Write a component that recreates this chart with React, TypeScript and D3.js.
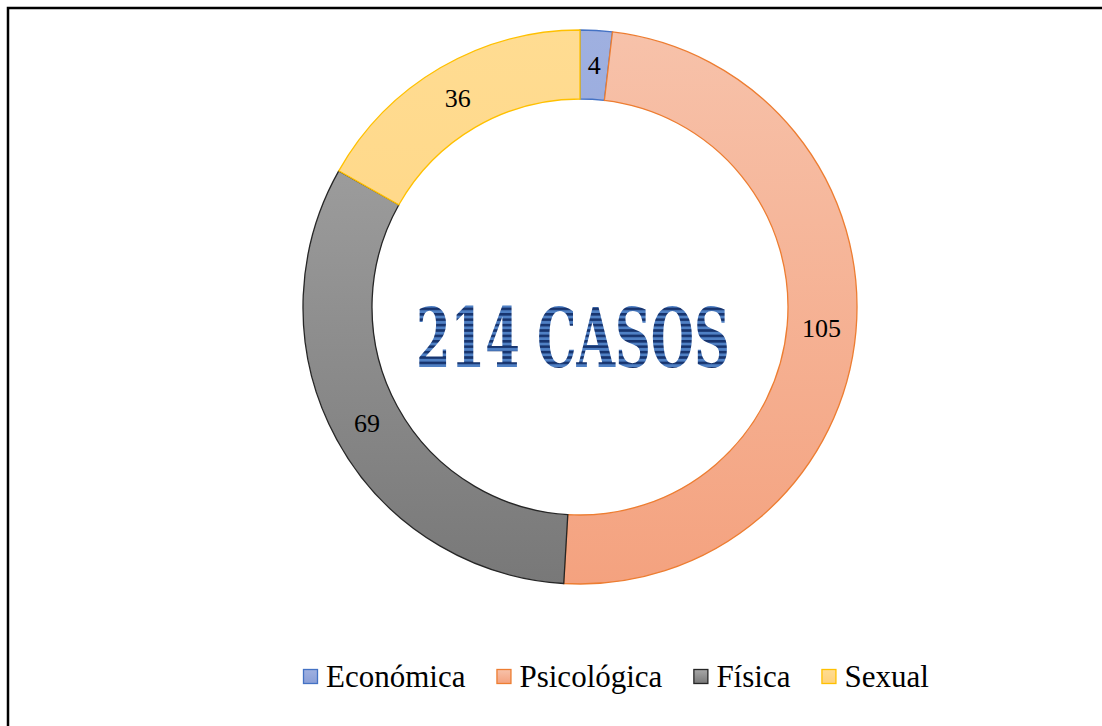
import React, { useEffect, useRef } from 'react';
import * as d3 from 'd3';

const categories = ['Económica', 'Psicológica', 'Física', 'Sexual'];
const values = [4, 105, 69, 36];
const totalLabel = '214 CASOS';

const fillTop = ['#9fb0e0', '#f7c2aa', '#a8a8a8', '#ffdc92'];
const fillBottom = ['#8a9fd8', '#f4a27f', '#787878', '#ffd27a'];
const strokes = ['#4472c4', '#ed7d31', '#262626', '#ffc000'];

const SERIF = "'Liberation Serif', 'Times New Roman', Tinos, 'DejaVu Serif', serif";

function App() {
  const ref = useRef<SVGSVGElement>(null);

  useEffect(() => {
    if (!ref.current) return;
    const svg = d3.select(ref.current);
    svg.selectAll('*').remove();

    const width = 1102;
    const height = 726;
    const cx = 580;
    const cy = 307;
    const outer = 277;
    const inner = 208;

    svg.append('rect').attr('width', width).attr('height', height).attr('fill', '#fff');
    svg.append('rect')
      .attr('x', 8).attr('y', 8)
      .attr('width', 1300).attr('height', 900)
      .attr('fill', 'none').attr('stroke', '#000').attr('stroke-width', 2.5);

    const defs = svg.append('defs');
    categories.forEach((c, i) => {
      const g = defs.append('linearGradient')
        .attr('id', `grad${i}`)
        .attr('gradientUnits', 'userSpaceOnUse')
        .attr('x1', 0).attr('y1', -outer).attr('x2', 0).attr('y2', outer);
      g.append('stop').attr('offset', '0%').attr('stop-color', fillTop[i]);
      g.append('stop').attr('offset', '100%').attr('stop-color', fillBottom[i]);
      const lg = defs.append('linearGradient')
        .attr('id', `leg${i}`).attr('x1', 0).attr('y1', 0).attr('x2', 0).attr('y2', 1);
      lg.append('stop').attr('offset', '0%').attr('stop-color', fillTop[i]);
      lg.append('stop').attr('offset', '100%').attr('stop-color', fillBottom[i]);
    });

    // striped pattern for the center text
    const pat = defs.append('pattern')
      .attr('id', 'stripes')
      .attr('patternUnits', 'userSpaceOnUse')
      .attr('width', 10).attr('height', 5.4);
    pat.append('rect').attr('width', 10).attr('height', 5.4).attr('fill', '#4f80c4');
    pat.append('rect').attr('width', 10).attr('height', 2.6).attr('fill', '#17346e');

    const pie = d3.pie<number>().sort(null).value(d => d);
    const arcs = pie(values);
    const arc = d3.arc<d3.PieArcDatum<number>>().innerRadius(inner).outerRadius(outer);

    const g = svg.append('g').attr('transform', `translate(${cx},${cy})`);
    g.selectAll('path.slice')
      .data(arcs)
      .enter()
      .append('path')
      .attr('class', 'slice')
      .attr('d', arc)
      .attr('fill', (d, i) => `url(#grad${i})`)
      .attr('stroke', (d, i) => strokes[i])
      .attr('stroke-width', 1.3);

    g.selectAll('text.lbl')
      .data(arcs)
      .enter()
      .append('text')
      .attr('class', 'lbl')
      .attr('transform', d => `translate(${arc.centroid(d)})`)
      .attr('text-anchor', 'middle')
      .attr('dy', '0.35em')
      .attr('font-family', SERIF)
      .attr('font-size', 26)
      .attr('fill', '#000')
      .text(d => d.data);

    // big center label, squeezed horizontally to the reference width
    const center = svg.append('text')
      .attr('text-anchor', 'middle')
      .attr('font-family', "'DejaVu Serif', serif")
      .attr('font-weight', 'bold')
      .attr('font-size', 82)
      .attr('fill', 'url(#stripes)')
      .text(totalLabel);
    const natural = (center.node() as SVGTextElement).getComputedTextLength();
    center.attr('transform', `translate(573,367) scale(${314 / natural},1)`);

    // legend
    const legend = svg.append('g').attr('transform', 'translate(303,677)');
    let x = 0;
    categories.forEach((c, i) => {
      const item = legend.append('g').attr('transform', `translate(${x},0)`);
      item.append('rect')
        .attr('x', 0.5).attr('y', -7.5)
        .attr('width', 14).attr('height', 14)
        .attr('fill', `url(#leg${i})`)
        .attr('stroke', strokes[i]).attr('stroke-width', 1.3);
      const t = item.append('text')
        .attr('x', 23)
        .attr('y', 10)
        .attr('font-family', SERIF)
        .attr('font-size', 31)
        .attr('fill', '#000')
        .text(c);
      const w = (t.node() as SVGTextElement).getComputedTextLength();
      x += 23 + w + 31;
    });
  }, []);

  return (
    <svg
      ref={ref}
      width={1102}
      height={726}
      style={{ position: 'absolute', left: 0, top: 0, display: 'block' }}
    />
  );
}

export default App;
